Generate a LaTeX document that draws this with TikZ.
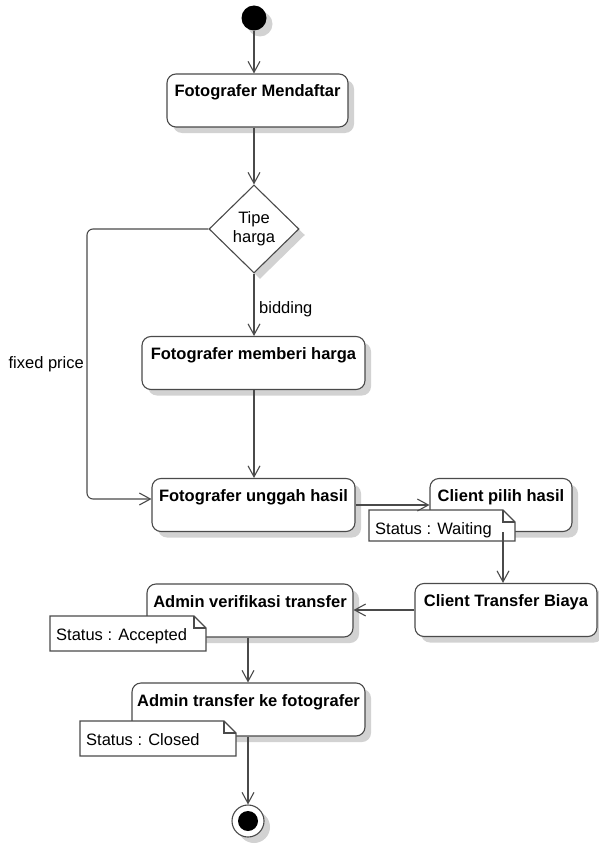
\documentclass[tikz,border=0pt]{standalone}
\usepackage{fontspec}
\setmainfont{Liberation Sans}
\usetikzlibrary{arrows.meta,shapes.geometric,shadows}

\definecolor{edge}{HTML}{4A4A4A}
\definecolor{shade}{HTML}{D2D2D2}

% status note with a folded top-right corner: name, x, y (top), width, height, text
\newcommand\statusnote[6]{%
  \draw[noteline] (#2,#3) -- (#2+#4-12,#3) -- (#2+#4,#3+12) -- (#2+#4,#3+#5) -- (#2,#3+#5) -- cycle;
  \draw[noteline, fill=none] (#2+#4-12,#3) -- (#2+#4-12,#3+12) -- (#2+#4,#3+12);
  \node[anchor=base west, inner sep=0] (#1) at (#2+6,#3+24) {#6};
}

\begin{document}
\begin{tikzpicture}[x=1pt,y=-1pt,
  every node/.style={font=\fontsize{16.5}{19}\selectfont},
  shadowed/.style={drop shadow={shadow xshift=6pt, shadow yshift=-6pt, fill=shade, opacity=1}},
  action/.style={draw=edge, line width=1.1pt, rounded corners=9pt, fill=white, shadowed,
    font=\fontsize{16.5}{19}\selectfont\bfseries, inner sep=3pt,
    text height=20pt, text depth=27pt},
  decision/.style={diamond, draw=edge, line width=1.1pt, fill=white, shadowed,
    minimum width=90pt, minimum height=88pt, inner sep=0pt, align=center},
  noteline/.style={draw=edge, line width=1.1pt, fill=white},
  flow/.style={draw=edge, line width=1.1pt, -{Straight Barb[length=11pt,width=12pt]}},
  label/.style={inner sep=0pt}
]
\useasboundingbox (0,0) rectangle (598,848);

% initial node
\node[circle, fill=black, minimum size=25pt, inner sep=0pt, shadowed] (start) at (254,18) {};

% actions
\node[action, minimum width=181pt] (b1) at (257.5,100.5) {Fotografer Mendaftar};
\node[decision] (d) at (254,229) {Tipe\\harga};
\node[action, minimum width=223pt] (b2) at (253.5,363) {Fotografer memberi harga};
\node[action, minimum width=203pt] (b4) at (253.5,505) {Fotografer unggah hasil};
\node[action, minimum width=142pt] (c1) at (501,505) {Client pilih hasil};
\node[action, minimum width=182pt] (c2) at (506,610) {Client Transfer Biaya};
\node[action, minimum width=206pt] (a1) at (250,610.5) {Admin verifikasi transfer};
\node[action, minimum width=233pt] (a2) at (248.5,709.5) {Admin transfer ke fotografer};

% final node
\node[circle, draw=edge, line width=1.1pt, fill=white, minimum size=32pt, inner sep=0pt, shadowed] (end) at (248,821) {};
\node[circle, fill=black, minimum size=20pt, inner sep=0pt] (endcore) at (end) {};

% status notes
\statusnote{n1}{369}{510}{146}{31}{Status : Waiting}
\statusnote{n2}{50}{616}{156}{35}{Status : Accepted}
\statusnote{n3}{80}{721}{156}{35}{Status : Closed}

% guard labels
\node[label, anchor=west] (lbid) at (259,309) {bidding};
\node[label, anchor=east] (lfix) at (84,364) {fixed price};

% control flow
\coordinate (fp) at (87,499);
\draw[flow] (start) -- (start |- b1.north);
\draw[flow] (b1.south -| start) -- (d.north);
\draw[flow] (d.south) -- (b2.north -| d.south);
\draw[flow] (b2.south -| d.south) -- (b4.north -| d.south);
\draw[flow, rounded corners=6pt] (d.west) -| (fp) -- (fp -| b4.west);
\draw[flow] (b4.east) -- (c1.west);
\draw[flow] (c1.south -| 503,0) -- (c2.north -| 503,0);
\draw[flow] (c2.west) -- (c2.west -| a1.east);
\draw[flow] (a1.south -| 248,0) -- (a2.north -| 248,0);
\draw[flow] (a2.south -| end) -- (end);
\end{tikzpicture}
\end{document}
